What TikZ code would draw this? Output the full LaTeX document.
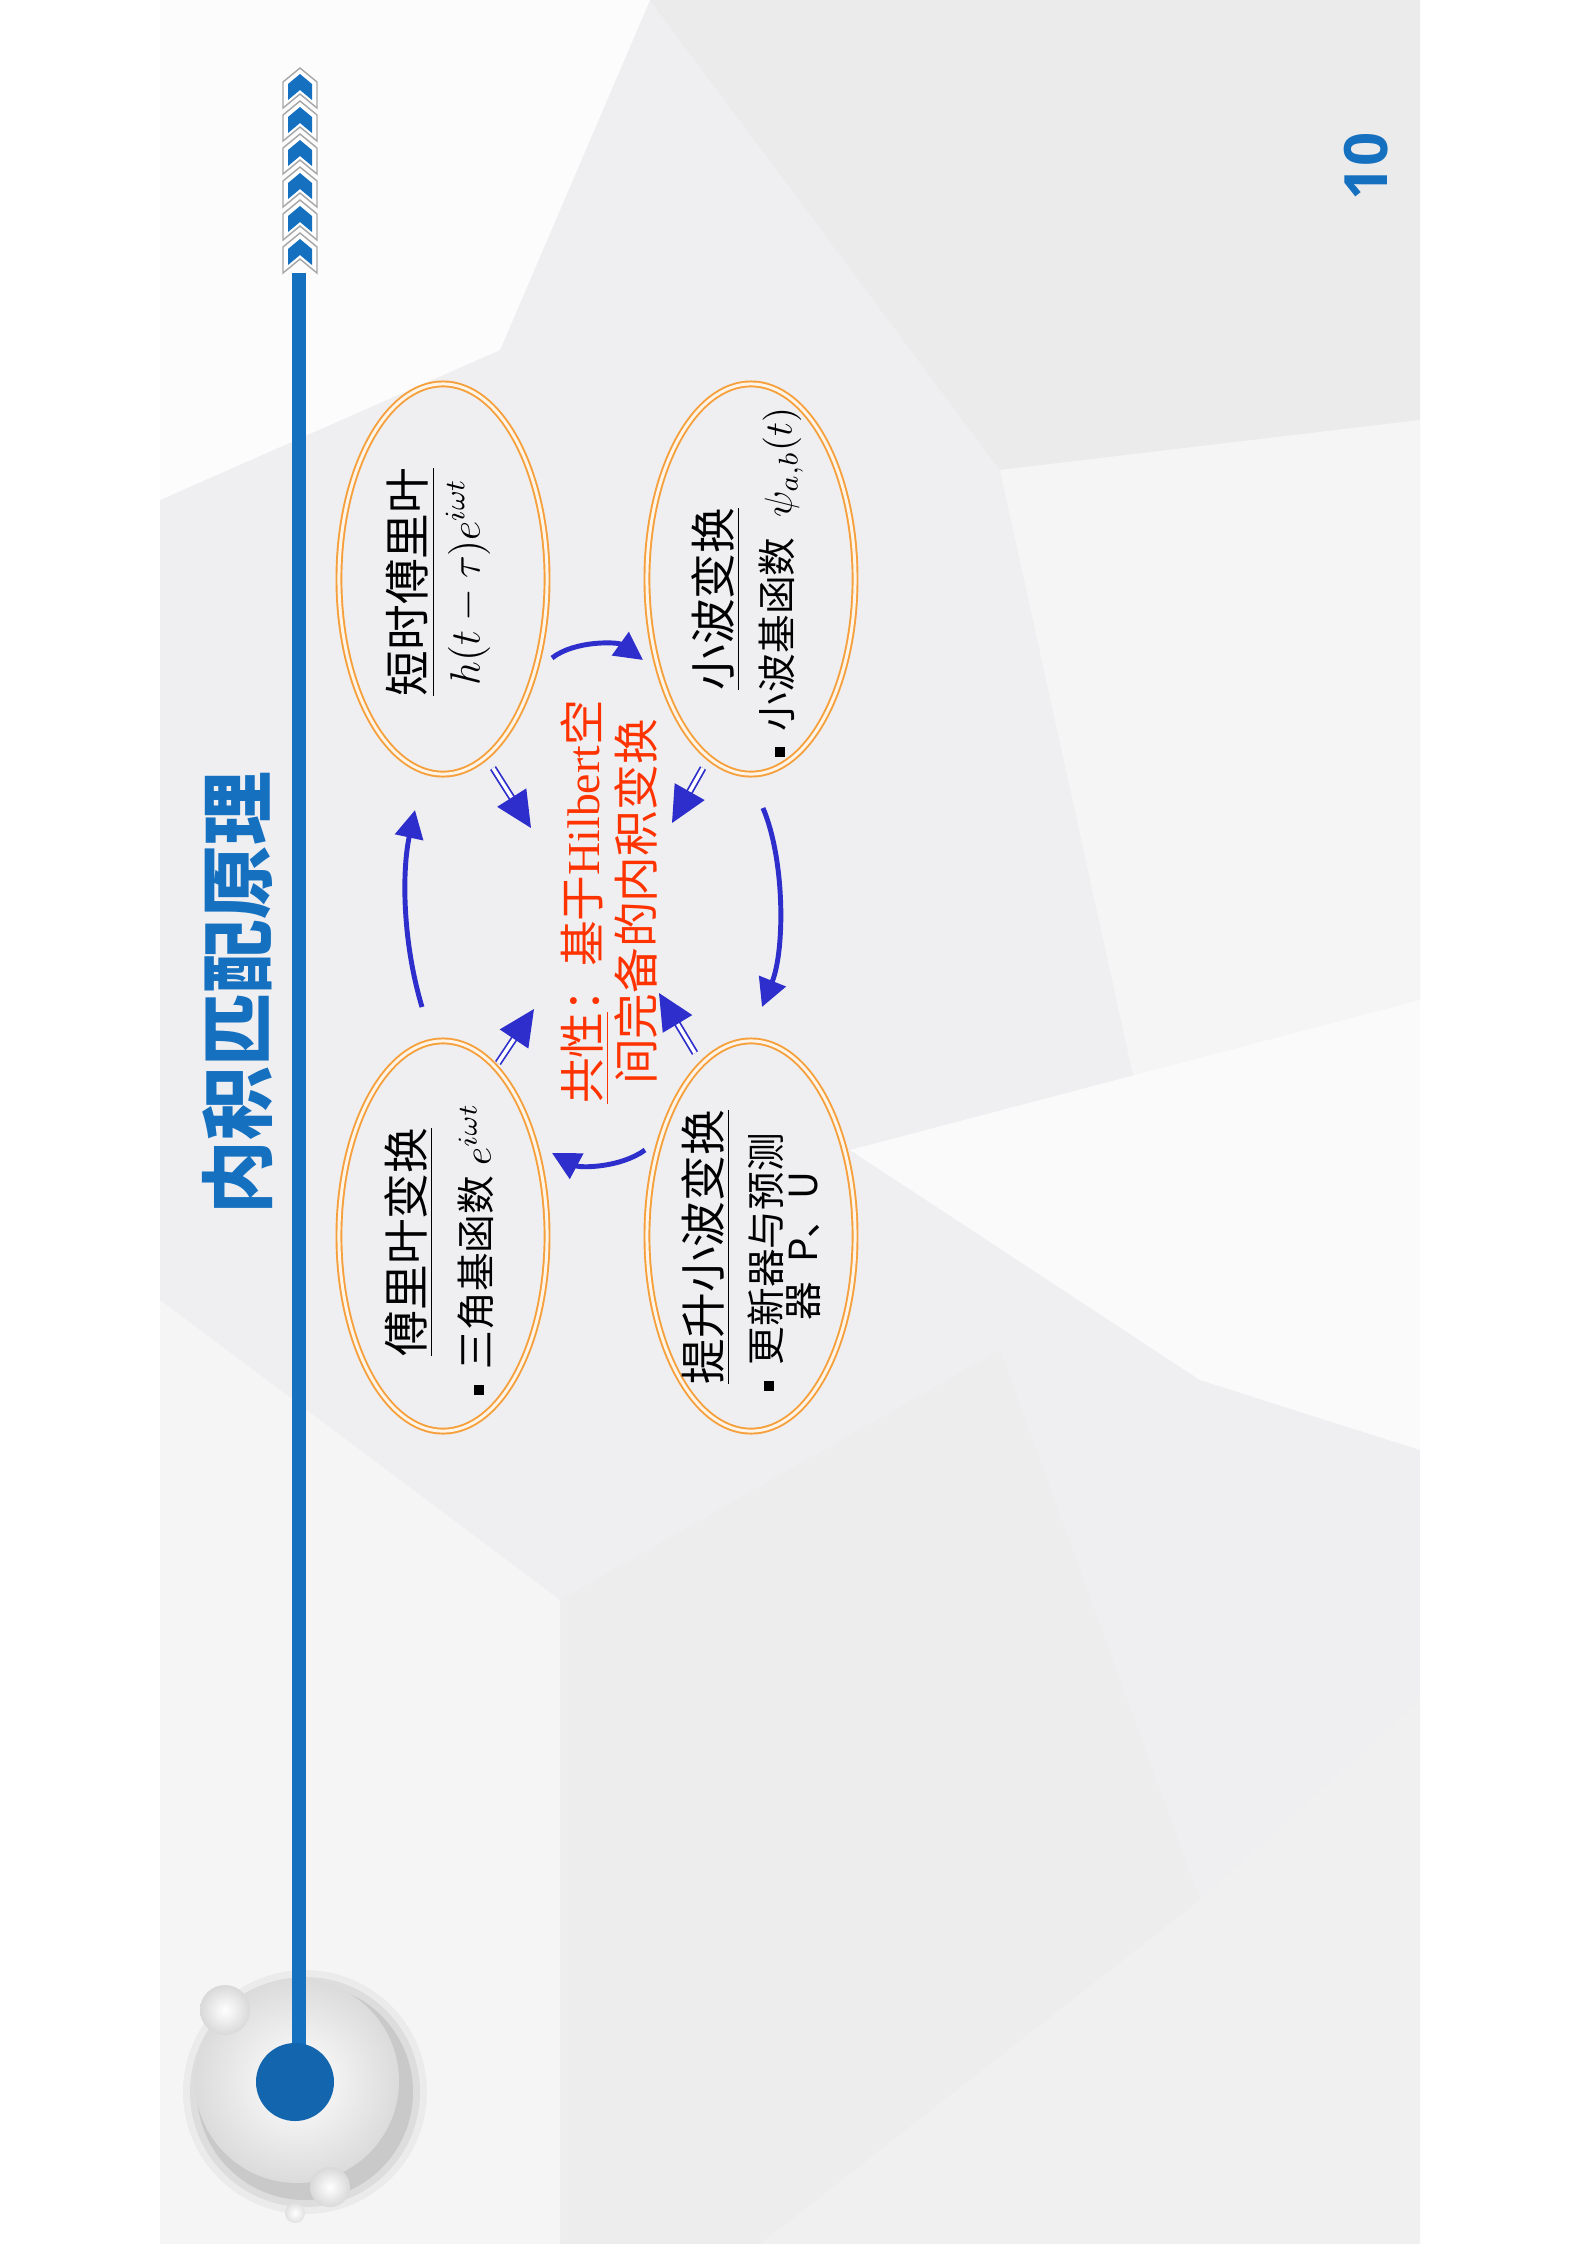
\documentclass[tikz,border=0pt]{standalone}
\usepackage{fix-cm}
\usepackage{fontspec}
\setmainfont{Liberation Serif}
\newfontfamily\cjk{Noto Sans CJK SC}
\newfontfamily\numfont{Open Sans}
\usetikzlibrary{arrows.meta,shapes.geometric}

\definecolor{slidebg}{HTML}{EFEFF1}
\definecolor{barblue}{HTML}{1570C0}
\definecolor{arrowblue}{HTML}{2E2ECC}
\definecolor{ringorange}{HTML}{F5A03C}
\definecolor{keyred}{HTML}{FF3300}

\newcommand{\sqbullet}{\rule[0.07cm]{0.1cm}{0.1cm}\hspace{0.16cm}}

\begin{document}
\begin{tikzpicture}[x=0.01cm, y=-0.01cm,
  ringshape/.style = {ellipse, draw=ringorange, line width=0.55pt, double=ringorange!12, double distance=0.85pt,
    minimum width=2.08cm, minimum height=3.9cm, inner sep=0pt},
  headtext/.style = {rotate=90, inner sep=0pt, font=\cjk\fontsize{13pt}{15pt}\selectfont},
  bodytext/.style = {rotate=90, inner sep=0pt, font=\cjk\fontsize{11pt}{13pt}\selectfont},
  turnarrow/.style = {draw=arrowblue, line width=1.4pt, -{Triangle[length=2.8mm,width=2.8mm]}},
  inarrow/.style = {draw=arrowblue, line width=0.5pt, double=white, double distance=1pt,
    -{Triangle[length=3.6mm,width=3.4mm]}}]
\useasboundingbox (0,0) rectangle (1586,2244);
\fill[white] (0,0) rectangle (1586,2244);

% slide background with facets
\fill[slidebg] (160,0) rectangle (1420,2244);
\fill[black!1] (160,0) -- (650,0) -- (500,350) -- (160,500) -- cycle;
\fill[black!8] (650,0) -- (1420,0) -- (1420,420) -- (1000,470) -- cycle;
\fill[black!4] (1000,470) -- (1420,420) -- (1420,1000) -- (1200,1380) -- cycle;
\fill[black!2] (850,1150) -- (1420,1000) -- (1420,1450) -- (1200,1380) -- cycle;
\fill[black!7] (560,1600) -- (1000,1350) -- (1200,1900) -- (760,2244) -- (560,2244) -- cycle;
\fill[black!4] (160,1300) -- (560,1600) -- (560,2244) -- (160,2244) -- cycle;
\fill[black!6] (1200,1900) -- (1420,1700) -- (1420,2244) -- (760,2244) -- cycle;

% left bar with chevrons and button
\foreach \k [evaluate=\k as \t using 68+33*\k] in {5,4,...,0} {
  \filldraw[fill=white, draw=black!35, line width=0.4pt] (283,\t+14) -- (300,\t) -- (317,\t+14) -- (317,\t+40) -- (300,\t+26) -- (283,\t+40) -- cycle;
  \fill[barblue] (288,\t+16) -- (300,\t+6) -- (312,\t+16) -- (312,\t+32) -- (300,\t+22) -- (288,\t+32) -- cycle;
}
\foreach \r/\o in {122/0.04,115/0.06,108/0.09} {
  \fill[black, opacity=\o] (305,2092) circle [radius=\r];
}
\shade[inner color=white, outer color=black!14] (297,2081) circle [radius=102];
\draw[barblue, line width=0.13cm] (299,273) -- (299,2082);
\fill[barblue!90!black] (295,2082) circle [radius=39];
\shade[inner color=white, outer color=black!15] (225,2010) circle [radius=25];
\shade[inner color=white, outer color=black!15] (330,2187) circle [radius=20];
\shade[inner color=white, outer color=black!12] (295,2213) circle [radius=10];

% title and page number
\node[rotate=90, text=barblue, font=\cjk\bfseries\fontsize{21pt}{24pt}\selectfont] (title) at (238,993) {内积匹配原理};
\node[rotate=90, text=barblue, font=\numfont\bfseries\fontsize{17pt}{20pt}\selectfont] (pageno) at (1366,166) {10};

% the four transforms
\node[ringshape] (stft) at (443,579) {};
\node[ringshape] (wt) at (751,579) {};
\node[ringshape] (ft) at (443,1236) {};
\node[ringshape] (lwt) at (751,1236) {};

\node[headtext] (stfttitle) at (411,582) {\underline{短时傅里叶}};
\node[rotate=90, inner sep=0pt, font=\fontsize{12pt}{14pt}\selectfont] (stftbase) at (468,582) {$h(t-\tau)e^{i\omega t}$};
\node[headtext] (wttitle) at (716,599) {\underline{小波变换}};
\node[bodytext] (wtbase) at (781,582) {\sqbullet 小波基函数\hspace{0.2cm}$\psi_{a,b}(t)$};
\node[headtext] (fttitle) at (409,1242) {\underline{傅里叶变换}};
\node[bodytext] (ftbase) at (476,1249) {\sqbullet 三角基函数\hspace{0.1cm}$e^{i\omega t}$};
\node[headtext] (lwttitle) at (706,1247) {\underline{提升小波变换}};
\node[bodytext] (lwtbase) at (766,1262) {\sqbullet 更新器与预测};
\node[bodytext] (lwtbase2) at (804,1246) {器\hspace{0.1cm} P、U};

% common property in the middle
\node[rotate=90, text=keyred, align=center, inner sep=0pt, font=\cjk\fontsize{13pt}{15.6pt}\selectfont] (common) at (609,902)
  {\underline{共性}：基于{\rmfamily Hilbert}空\\间完备的内积变换};

% cycle arrows
\coordinate (top1) at (552,658);
\coordinate (top2) at (643,660);
\coordinate (right1) at (763,808);
\coordinate (right2) at (762,1007);
\coordinate (bot1) at (645,1150);
\coordinate (bot2) at (552,1153);
\coordinate (left1) at (422,1007);
\coordinate (left2) at (415,810);
\draw[turnarrow] (top1) .. controls (575,640) and (618,642) .. (top2);
\draw[turnarrow] (right1) .. controls (785,860) and (785,950) .. (right2);
\draw[turnarrow] (bot1) .. controls (620,1168) and (580,1168) .. (bot2);
\draw[turnarrow] (left1) .. controls (402,940) and (402,870) .. (left2);

% arrows into the middle
\coordinate (in1) at (493,768);
\coordinate (mid1) at (531,828);
\coordinate (in2) at (703,768);
\coordinate (mid2) at (672,823);
\coordinate (in3) at (498,1063);
\coordinate (mid3) at (534,1009);
\coordinate (in4) at (695,1053);
\coordinate (mid4) at (659,993);
\draw[inarrow] (in1) -- (mid1);
\draw[inarrow] (in2) -- (mid2);
\draw[inarrow] (in3) -- (mid3);
\draw[inarrow] (in4) -- (mid4);
\end{tikzpicture}
\end{document}
